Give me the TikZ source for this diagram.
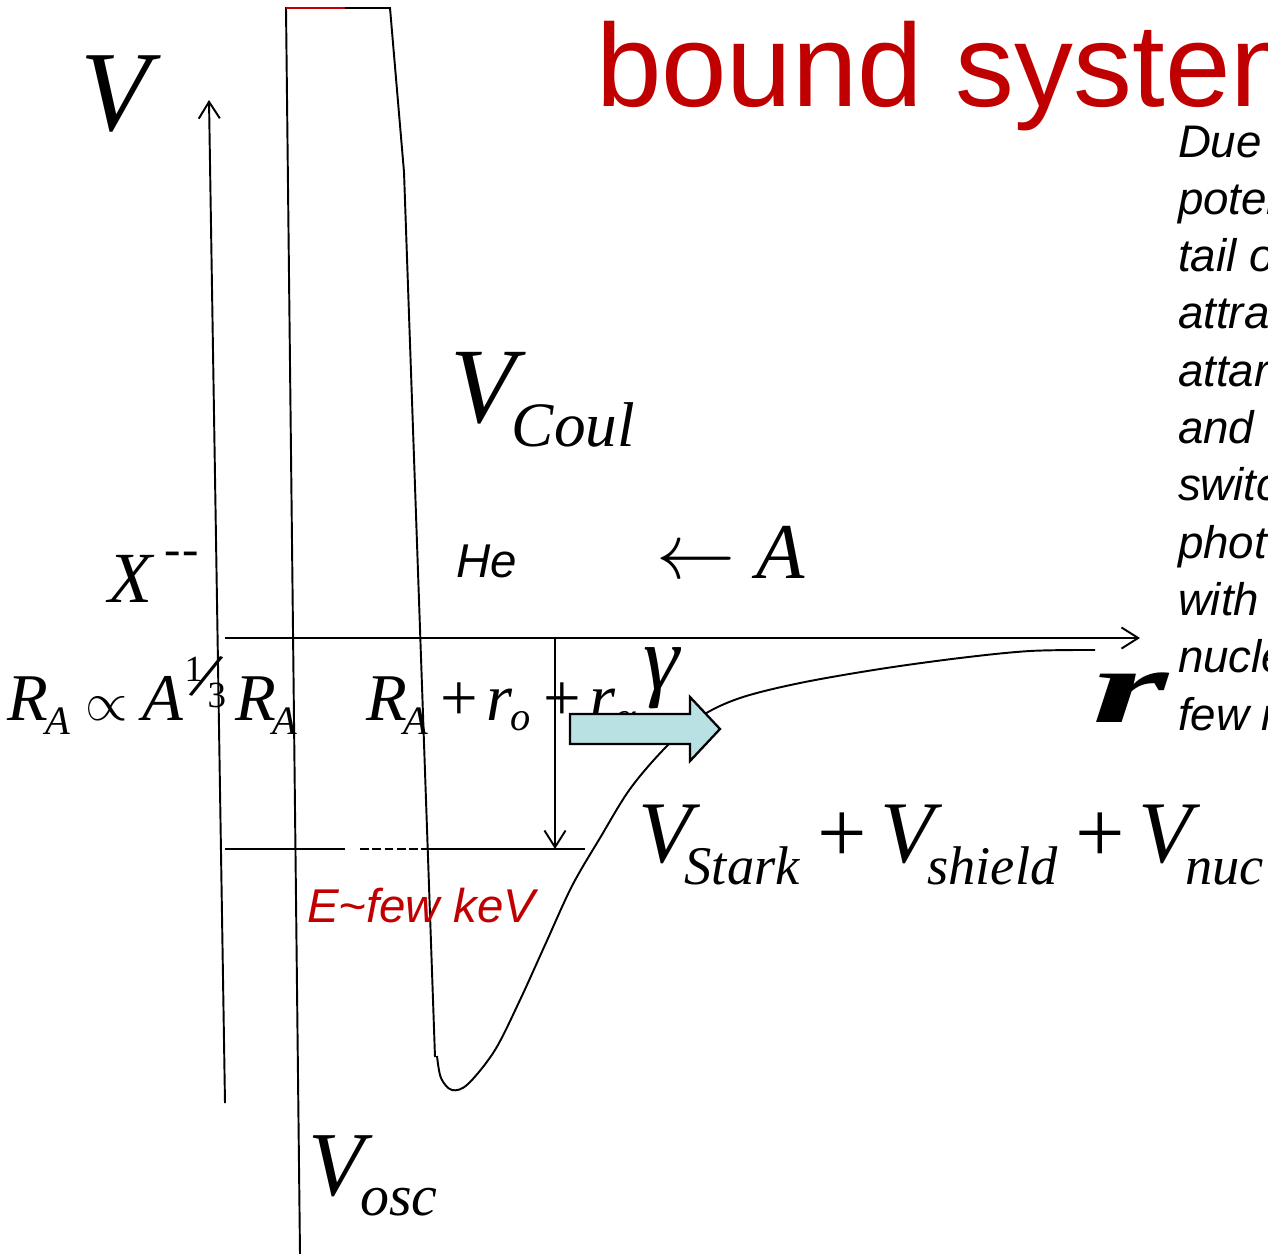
\RequirePackage{fix-cm}
\documentclass[tikz,border=0pt]{standalone}
\usepackage{fontspec}
\usepackage{graphicx}
\setmainfont{Liberation Serif}
\newfontfamily\arialfont{Liberation Sans}
\usetikzlibrary{arrows.meta}
\definecolor{titlered}{RGB}{192,0,0}
\definecolor{photoncyan}{RGB}{185,224,227}
\newcommand{\fsz}[1]{\fontsize{#1}{#1}\selectfont}
% lowered / raised small italic text: drop, size, text
\newcommand{\lo}[3]{\raisebox{-#1}{\fsz{#2}\itshape #3}}
\newcommand{\hi}[3]{\raisebox{#1}{\fsz{#2}\upshape #3}}
\newcommand{\pls}[2]{\kern#1\textup{+}\kern#2}

\begin{document}
\begin{tikzpicture}[x=0.02cm, y=-0.02cm, >={Straight Barb[length=9.5pt,width=12pt]}, line width=1.1pt,
  lbl/.style={anchor=base west, inner sep=0pt, outer sep=0pt},
  note/.style={lbl, font=\arialfont\itshape\fsz{26}}]
  \useasboundingbox (0,0) rectangle (1268,1254);
  \clip (0,0) rectangle (1268,1254);

  % title
  \node[lbl, text=titlered] (title) at (596,106) {\arialfont\fsz{67}bound system};

  % side note (cut at the page edge)
  \foreach \w [count=\i from 0] in {Due, poten, tail o, attrac, attar, and, switc, phot, with, nucle, few n}
    \node[note] (note\i) at (1178,{157+57.3*\i}) {\w};

  % axes
  \coordinate (vbot) at (225,1103);
  \coordinate (vtop) at (209,100);
  \coordinate (rstart) at (225,638);
  \coordinate (rend) at (1140,638);
  \draw[->] (vbot) -- (vtop);
  \draw[->] (rstart) -- (rend);

  % oscillator wall (left) and Coulomb wall (right)
  \draw (300,1254) -- (286,8) -- (345,8);
  \draw[titlered] (286,8) -- (345,8);
  \draw (345,8) -- (390,8) -- (404,172) -- (435,1057);

  % bound level
  \draw (225,849) -- (345,849);
  \draw[dash pattern=on 5pt off 2pt] (360,849) -- (424,849);
  \draw (424,849) -- (585,849);
  \coordinate (gaptop) at (555,638);
  \coordinate (gapbot) at (555,849);
  \draw[->] (gaptop) -- (gapbot);

  % well: Stark + shield + nuclear
  \draw plot[smooth, tension=0.55] coordinates {(437,1056) (441,1078) (452,1090) (468,1084) (495,1050) (520,1000) (545,945) (572,886) (600,838) (630,789) (665,748) (700,717) (740,698) (800,683) (880,669) (960,658) (1030,651) (1095,650)};

  % labels
  \node[lbl] (Vlab) at (80,130) {\fsz{65}\itshape V};
  \node[lbl] (Vcoul) at (450,422) {\fsz{61}\itshape V\kern-2pt\lo{14pt}{36}{Coul}};
  \node[lbl] (Xlab) at (108,602) {\fsz{41}\itshape X\kern7pt\hi{21pt}{28}{-\kern1pt-}};
  \node[lbl] (He) at (456,577) {\arialfont\itshape\fsz{27}He};
  \node[lbl] (Alab) at (656,578) {\fsz{45}$\leftarrow$\kern12pt\itshape A};
  \node[lbl] (RAprop) at (8,720) {\fsz{38}\itshape R\kern-2pt\lo{8.5pt}{23}{A}\kern9pt{\fsz{31}$\propto$}\kern8pt A\kern1pt\hi{22pt}{21}{1}\kern-8pt\hi{12pt}{40}{\rotatebox[origin=c]{-20}{/}}\kern-9pt\hi{7pt}{21}{3}};
  \node[lbl] (RA) at (235,720) {\fsz{38}\itshape R\kern-2pt\lo{8.5pt}{23}{A}};
  \node[lbl] (RAsum) at (366,720) {\fsz{38}\itshape R\kern-2pt\lo{8.5pt}{23}{A}\pls{7pt}{5pt}r\kern-1pt\lo{6pt}{23}{o}\pls{7pt}{5pt}r\kern-1pt\lo{6pt}{23}{α}};
  \node[lbl] (gam) at (643,689) {\fsz{52}\itshape γ};
  \node[lbl, xscale=1.85] (rlab) at (1092,722) {\fsz{60}\bfseries\itshape r};
  \node[lbl] (Vsum) at (638,862) {\fsz{50}\itshape V\kern-4pt\lo{13pt}{31}{Stark}\pls{10pt}{8pt}V\kern-4pt\lo{13pt}{31}{shield}\pls{10pt}{8pt}V\kern-4pt\lo{13pt}{31}{nuc}};
  \node[lbl, text=titlered] (Elab) at (307,922) {\arialfont\itshape\fsz{27}E\textasciitilde few keV};
  \node[lbl] (Vosc) at (308,1195) {\fsz{52}\itshape V\kern-2pt\lo{11.5pt}{33}{osc}};

  % photon emission
  \draw[fill=photoncyan, line width=1.3pt] (570,714) -- (690,714) -- (690,697) -- (720,729) -- (690,761) -- (690,744) -- (570,744) -- cycle;
\end{tikzpicture}
\end{document}
